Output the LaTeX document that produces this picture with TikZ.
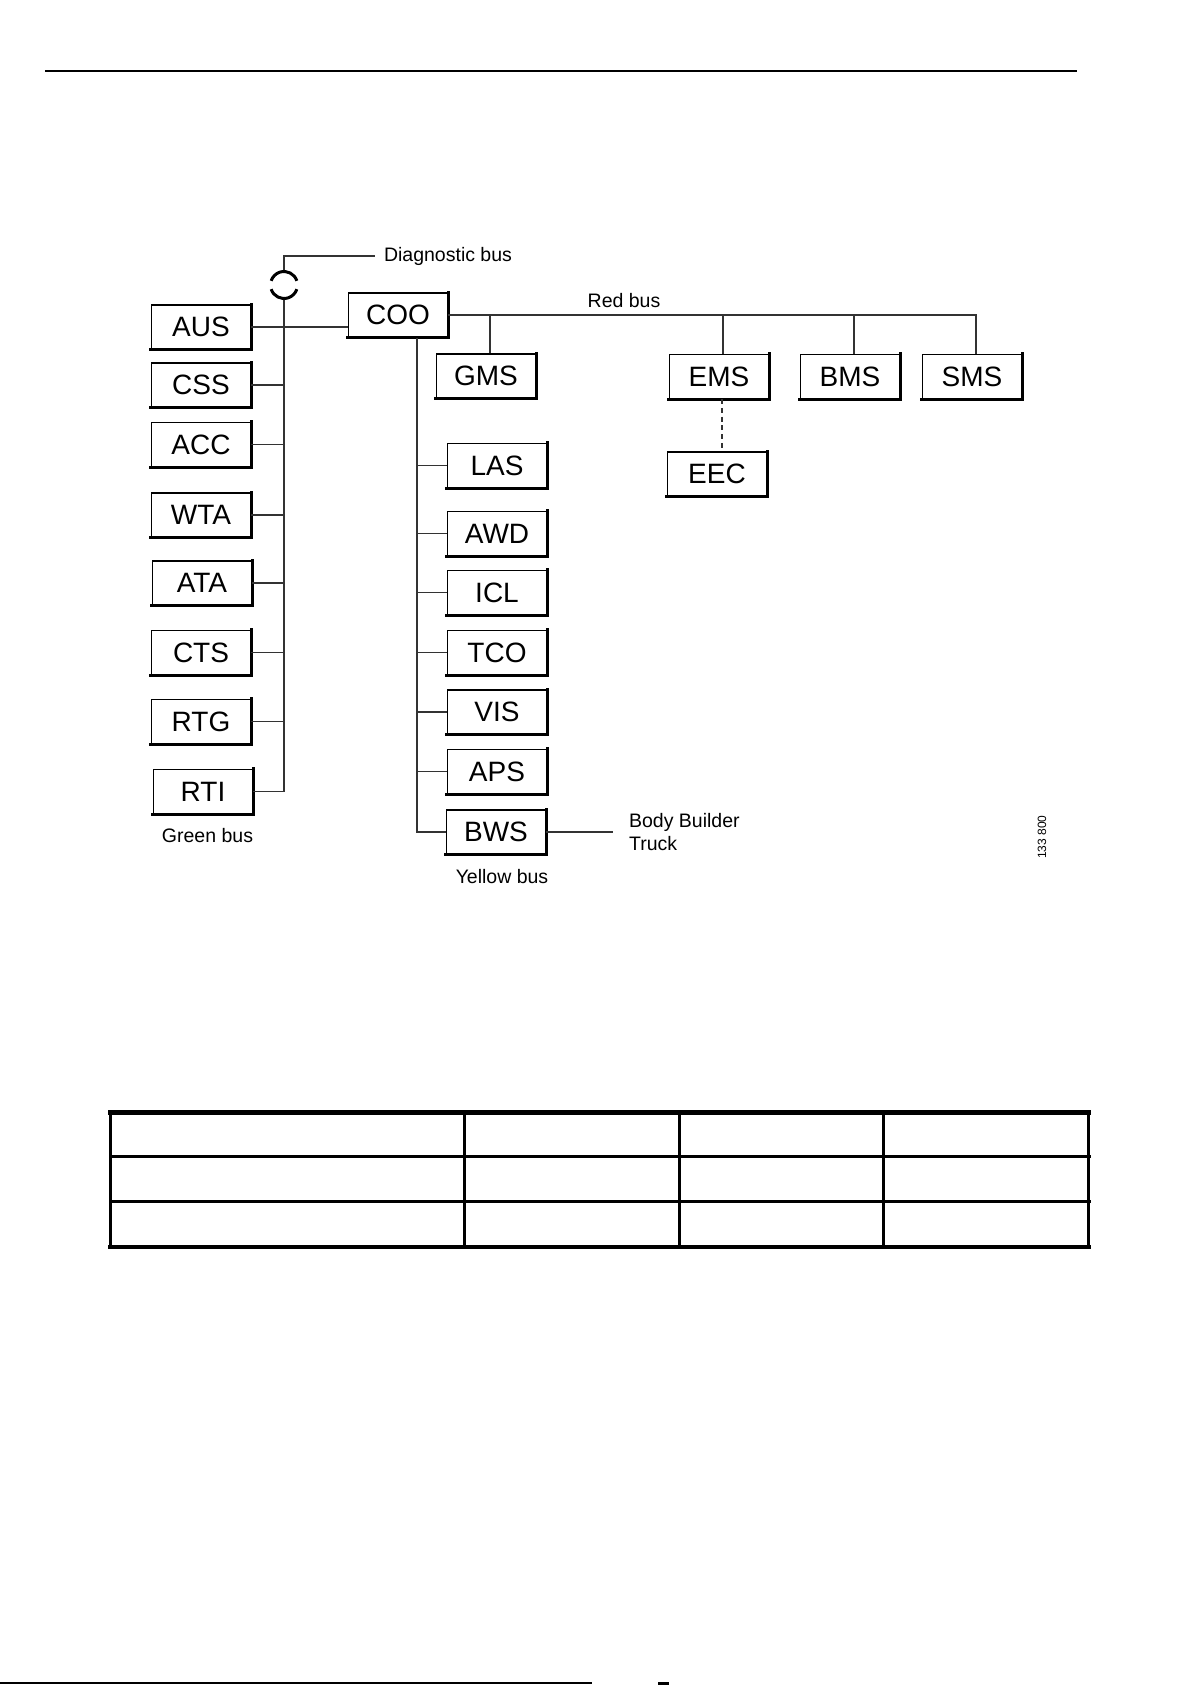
\documentclass[tikz,border=0pt]{standalone}
\usepackage{fontspec}
\setmainfont{Liberation Sans}
\usetikzlibrary{positioning}

\begin{document}
\begin{tikzpicture}[
  x=0.4pt, y=0.4pt,
  ecu/.style={rectangle, draw, line width=0.5pt,
    minimum width=39.6pt, minimum height=17.6pt, inner sep=0pt,
    font=\fontsize{11.2}{13}\selectfont},
  ecushade/.style={line width=1.2pt, line cap=rect},
  plugline/.style={line width=1.2pt},
  bus/.style={line width=0.45pt, color=black!80},
  lbl/.style={font=\fontsize{7.8}{9.4}\selectfont},
  rule/.style={line width=0.8pt},
]
\useasboundingbox (0,0) rectangle (1191,-1685);

% === Page rules ===
\draw[rule] (45,-71) -- (1077,-71);
\draw[rule] (0,-1683) -- (592,-1683);
\fill (658,-1682) rectangle (669,-1685);

% === Green bus ===
\node[ecu] (aus) at (201,-327) {AUS};
\node[ecu] (css) at (201,-385) {CSS};
\node[ecu] (acc) at (201,-444.5) {ACC};
\node[ecu] (wta) at (201,-515) {WTA};
\node[ecu] (ata) at (202,-583) {ATA};
\node[ecu] (cts) at (201,-652.5) {CTS};
\node[ecu] (rtg) at (201,-721.5) {RTG};
\node[ecu] (rti) at (203,-791.5) {RTI};

% === Red bus ===
\node[ecu] (coo) at (398,-315) {COO};
\node[ecu] (gms) at (486,-376) {GMS};
\node[ecu] (ems) at (719,-376.5) {EMS};
\node[ecu] (bms) at (850,-376.5) {BMS};
\node[ecu] (sms) at (972,-376.5) {SMS};
\node[ecu] (eec) at (717,-474) {EEC};

% === Yellow bus ===
\node[ecu] (las) at (497,-465.5) {LAS};
\node[ecu] (awd) at (497,-533.5) {AWD};
\node[ecu] (icl) at (497,-592.5) {ICL};
\node[ecu] (tco) at (497,-652.5) {TCO};
\node[ecu] (vis) at (497,-712) {VIS};
\node[ecu] (aps) at (497,-771.5) {APS};
\node[ecu] (bws) at (496,-832) {BWS};

% shadow edges
\foreach \n in {aus,css,acc,wta,ata,cts,rtg,rti,coo,gms,ems,bms,sms,eec,las,awd,icl,tco,vis,aps,bws}
  \draw[ecushade] (\n.north east) -- (\n.south east) -- (\n.south west);

% === Diagnostic connector ===
\node[circle, line width=1.2pt, minimum size=10.8pt, inner sep=0pt] (plug) at (284,-285) {};
\draw[plugline] ([shift={(18:5.4pt)}]plug.center) arc[start angle=18, end angle=162, radius=5.4pt];
\draw[plugline] ([shift={(198:5.4pt)}]plug.center) arc[start angle=198, end angle=342, radius=5.4pt];
\node[lbl] (diag) at (448,-256) {Diagnostic bus};

% === Labels ===
\node[lbl] (redlbl) at (624,-301) {Red bus};
\node[lbl, below=2.3pt of rti, xshift=1.8pt] (greenlbl) {Green bus};
\node[lbl, below=2.5pt of bws, xshift=2.4pt] (yellowlbl) {Yellow bus};
\node[lbl, align=left, inner xsep=6.4pt, right=26.6pt of bws] (bbt) {Body Builder\\Truck};
\node[font=\fontsize{4.8}{5.8}\selectfont, rotate=90] (fignum) at (1042,-837) {133 800};

% === Connectors: green bus ===
\draw[bus] (plug.north) |- (diag.west);
\draw[bus] (plug.south) -- (plug.south |- rti.east) -- (rti.east);
\foreach \n in {css,acc,wta,ata,cts,rtg}
  \draw[bus] (\n.east) -- (\n.east -| plug.south);
\draw[bus] (aus.east) -- (aus.east -| coo.west);

% === Connectors: red bus ===
\draw[bus] (coo.east) -| ([xshift=1.6pt]sms.north);
\foreach \n in {gms,ems,bms}
  \draw[bus] ([xshift=1.6pt]\n.north) -- ([xshift=1.6pt]\n.north |- coo.east);
\draw[bus, dash pattern=on 2pt off 1.5pt] ([xshift=1.2pt]ems.south) -- ([xshift=1.2pt]ems.south |- eec.north);

% === Connectors: yellow bus ===
\coordinate (ytap) at ([xshift=7.6pt]coo.south);
\draw[bus] (ytap) |- (bws.west);
\foreach \n in {las,awd,icl,tco,vis,aps}
  \draw[bus] (\n.west) -- (\n.west -| ytap);
\draw[bus] (bws.east) -- (bbt.west);

% === Table ===
\foreach \y/\w in {1112.5/1.8pt,1156.6/1.4pt,1201.6/1.4pt,1247/1.8pt}
  \draw[line width=\w, line cap=rect] (110.7,-\y) -- (1088.9,-\y);
\foreach \x in {110.7,464.4,679.3,883.6,1088.9}
  \draw[line width=1.2pt] (\x,-1112.5) -- (\x,-1247);

\end{tikzpicture}
\end{document}
